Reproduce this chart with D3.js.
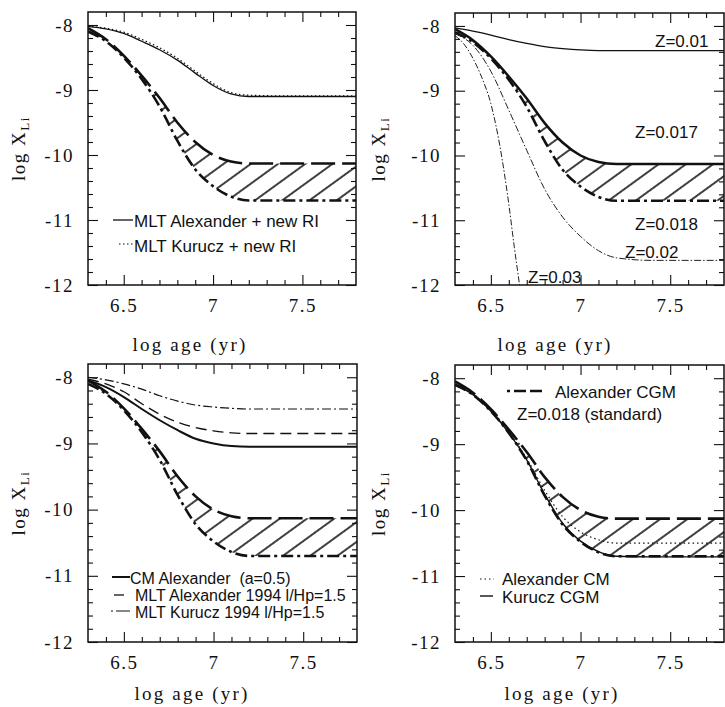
<!DOCTYPE html>
<html><head><meta charset="utf-8">
<script src="https://cdn.jsdelivr.net/npm/d3@7"></script>
<style>body{margin:0;background:#fff} svg{display:block}</style>
</head><body>
<svg id="c" width="725" height="707"></svg>
<script>
// ---------- DATA ----------
const ageGrid   = [6.30, 6.40, 6.50, 6.60, 6.70, 6.80, 6.90, 7.00, 7.10, 7.20, 7.40, 7.60, 7.80];
// common band: upper (Z=0.017 / dashed) and lower (Alexander CGM, Z=0.018 standard)
const bandUpper = [-8.05, -8.22, -8.47, -8.78, -9.12, -9.50, -9.80, -10.00, -10.10, -10.13, -10.13, -10.13, -10.13];
const bandLower = [-8.10, -8.25, -8.50, -8.83, -9.25, -9.78, -10.22, -10.48, -10.64, -10.70, -10.70, -10.70, -10.70];
// panel 1
const p1MltAlexander = [-8.02, -8.06, -8.13, -8.25, -8.38, -8.54, -8.74, -8.93, -9.06, -9.10, -9.10, -9.10, -9.10];
const p1MltKurucz    = [-8.02, -8.05, -8.11, -8.22, -8.35, -8.51, -8.71, -8.90, -9.04, -9.08, -9.09, -9.09, -9.09];
// panel 2
const p2Z001 = [-8.03, -8.08, -8.14, -8.21, -8.27, -8.32, -8.35, -8.37, -8.38, -8.38, -8.38, -8.38, -8.38];
const p2Z002 = [-8.12, -8.30, -8.70, -9.30, -9.92, -10.52, -10.95, -11.25, -11.47, -11.58, -11.62, -11.62, -11.62];
const p2Z003Age = [6.30, 6.35, 6.40, 6.45, 6.50, 6.55, 6.60, 6.63, 6.66, 6.68];
const p2Z003    = [-8.15, -8.28, -8.50, -8.80, -9.20, -9.85, -10.75, -11.40, -12.00, -12.40];
// panel 3
const p3CmAlexander  = [-8.05, -8.15, -8.30, -8.48, -8.65, -8.80, -8.93, -9.00, -9.04, -9.05, -9.05, -9.05, -9.05];
const p3MltAlex1994  = [-8.03, -8.10, -8.22, -8.40, -8.56, -8.68, -8.76, -8.81, -8.84, -8.85, -8.85, -8.85, -8.85];
const p3MltKur1994   = [-8.00, -8.04, -8.10, -8.18, -8.28, -8.36, -8.42, -8.45, -8.47, -8.48, -8.48, -8.48, -8.48];
// panel 4
const p4AlexanderCM  = [-8.10, -8.25, -8.50, -8.82, -9.22, -9.70, -10.10, -10.33, -10.45, -10.50, -10.50, -10.50, -10.50];
const p4KuruczCGM    = [-8.10, -8.25, -8.50, -8.83, -9.24, -9.76, -10.20, -10.47, -10.63, -10.70, -10.71, -10.71, -10.71];
// ticks
const xMajor = [6.5, 7, 7.5];
const xMinor = [6.4, 6.6, 6.7, 6.8, 6.9, 7.1, 7.2, 7.3, 7.4, 7.6, 7.7];
const yMajor = [-8, -9, -10, -11, -12];
const yMinor = [-8.2,-8.4,-8.6,-8.8,-9.2,-9.4,-9.6,-9.8,-10.2,-10.4,-10.6,-10.8,-11.2,-11.4,-11.6,-11.8];
const xDomain = [6.3, 7.8], yDomain = [-12, -7.8];

// ---------- LAYOUT ----------
const svg = d3.select("#c");
const defs = svg.append("defs");
const pat = defs.append("pattern").attr("id","hatch").attr("patternUnits","userSpaceOnUse")
  .attr("width",32).attr("height",16).attr("patternTransform","rotate(-36)");
pat.append("line").attr("x1",-2).attr("x2",34).attr("y1",8).attr("y2",8)
  .attr("stroke","#000").attr("stroke-width",1.4);

const panels = [
  {left:88,  right:356, top:12,  bottom:285, titleX:190, titleY:351, ylabX:25},
  {left:455, right:724, top:13,  bottom:285, titleX:555, titleY:351, ylabX:385},
  {left:88,  right:357, top:364, bottom:642, titleX:192, titleY:700, ylabX:25},
  {left:455, right:724, top:365, bottom:642, titleX:562, titleY:700, ylabX:385}
];
const serifFont = "'Liberation Serif', 'Times New Roman', serif";
const sansFont = "'Liberation Sans', Arial, sans-serif";

function setup(p, i) {
  const x = d3.scaleLinear().domain(xDomain).range([p.left, p.right]);
  const y = d3.scaleLinear().domain(yDomain).range([p.bottom, p.top]);
  const g = svg.append("g");
  defs.append("clipPath").attr("id","clip"+i).append("rect")
    .attr("x",p.left).attr("y",p.top).attr("width",p.right-p.left).attr("height",p.bottom-p.top);
  const plot = g.append("g").attr("clip-path",`url(#clip${i})`);

  const mk = (axis, scale, vals, size, tx, labels) => {
    const a = g.append("g").attr("transform",tx)
      .call(axis(scale).tickValues(vals).tickSize(-size).tickPadding(14)
        .tickFormat(labels ? d3.format("") : ""));
    a.select(".domain").remove();
    a.selectAll("line").attr("stroke","#111").attr("stroke-width",1.1);
    a.selectAll("text").attr("font-family",serifFont).attr("font-size",19)
      .attr("letter-spacing",1.5).attr("fill","#111");
    return a;
  };
  mk(d3.axisBottom, x, xMajor, 10, `translate(0,${p.bottom})`, true);
  mk(d3.axisBottom, x, xMinor, 5, `translate(0,${p.bottom})`, false);
  mk(d3.axisTop, x, xMajor, 10, `translate(0,${p.top})`, false);
  mk(d3.axisTop, x, xMinor, 5, `translate(0,${p.top})`, false);
  const la = mk(d3.axisLeft, y, yMajor, 10, `translate(${p.left},0)`, true);
  la.selectAll("text").text(d => "-" + Math.abs(d));
  mk(d3.axisLeft, y, yMinor, 5, `translate(${p.left},0)`, false);
  mk(d3.axisRight, y, yMajor, 10, `translate(${p.right},0)`, false);
  mk(d3.axisRight, y, yMinor, 5, `translate(${p.right},0)`, false);

  g.append("rect").attr("x",p.left).attr("y",p.top).attr("width",p.right-p.left).attr("height",p.bottom-p.top)
    .attr("fill","none").attr("stroke","#111").attr("stroke-width",1.5);

  g.append("text").attr("x",p.titleX).attr("y",p.titleY).attr("text-anchor","middle")
    .attr("font-family",serifFont).attr("font-size",19).attr("letter-spacing",2.2)
    .attr("fill","#111").text("log age (yr)");
  const yt = g.append("text").attr("transform",`translate(${p.ylabX},${(p.top+p.bottom)/2}) rotate(-90)`)
    .attr("text-anchor","middle").attr("font-family",serifFont).attr("font-size",19)
    .attr("letter-spacing",1.5).attr("fill","#111");
  yt.append("tspan").text("log X");
  yt.append("tspan").attr("font-size",13).attr("dy",4).text("Li");
  return {x, y, g, plot};
}

function curve(ctx, xs, ys, style) {
  const line = d3.line().x((d,i)=>ctx.x(xs[i])).y(d=>ctx.y(d)).curve(d3.curveMonotoneX);
  const path = ctx.plot.append("path").datum(ys).attr("d",line).attr("fill","none")
    .attr("stroke", style.color || "#111").attr("stroke-width",style.w)
    .attr("stroke-linecap","butt");
  if (style.dash) path.attr("stroke-dasharray",style.dash);
  return path;
}
function band(ctx, upperStyle) {
  const area = d3.area().x((d,i)=>ctx.x(ageGrid[i])).y0((d,i)=>ctx.y(bandLower[i])).y1(d=>ctx.y(d))
    .curve(d3.curveMonotoneX);
  ctx.plot.append("path").datum(bandUpper).attr("d",area).attr("fill","url(#hatch)").attr("stroke","none");
  curve(ctx, ageGrid, bandUpper, upperStyle || {w:2.6, dash:"24,7"});
  curve(ctx, ageGrid, bandLower, {w:2.6, dash:"12,4,3,4"});
}
function legendLine(ctx, x1, x2, yy, style) {
  const l = ctx.g.append("line").attr("x1",x1).attr("x2",x2).attr("y1",yy).attr("y2",yy)
    .attr("stroke","#111").attr("stroke-width",style.w);
  if (style.dash) l.attr("stroke-dasharray",style.dash);
}
function label(ctx, tx, ty, s, size) {
  ctx.g.append("text").attr("x",tx).attr("y",ty).attr("font-family",sansFont)
    .attr("font-size",size||17).attr("fill","#111").text(s);
}

// ---------- PANEL 1 ----------
const c1 = setup(panels[0], 0);
band(c1);
const s1a = {w:1.3}, s1k = {w:1.2, dash:"1.5,2.5"};
curve(c1, ageGrid, p1MltAlexander, s1a);
curve(c1, ageGrid, p1MltKurucz, s1k);
legendLine(c1, 113, 133, 220, s1a);
label(c1, 134, 227, "MLT Alexander + new RI");
legendLine(c1, 119, 133, 244, s1k);
label(c1, 134, 252, "MLT Kurucz + new RI");

// ---------- PANEL 2 ----------
const c2 = setup(panels[1], 1);
band(c2, {w:2.5});
curve(c2, ageGrid, p2Z001, {w:1.3});
curve(c2, ageGrid, p2Z002, {w:1.0, dash:"7,2,1.5,2", color:"#222"});
curve(c2, p2Z003Age, p2Z003, {w:1.0, dash:"6,2,1.5,2", color:"#222"});
label(c2, 655, 47, "Z=0.01");
label(c2, 635, 138, "Z=0.017");
label(c2, 635, 230, "Z=0.018");
label(c2, 625, 258, "Z=0.02");
label(c2, 528, 283, "Z=0.03");

// ---------- PANEL 3 ----------
const c3 = setup(panels[2], 2);
band(c3);
const s3cm = {w:2.0}, s3ma = {w:1.3, dash:"11,6"}, s3mk = {w:1.2, dash:"9,3,2,3"};
curve(c3, ageGrid, p3MltKur1994, s3mk);
curve(c3, ageGrid, p3MltAlex1994, s3ma);
curve(c3, ageGrid, p3CmAlexander, s3cm);
legendLine(c3, 112, 130, 577, s3cm);
label(c3, 130, 584, "CM Alexander\u00a0 (a=0.5)", 16);
legendLine(c3, 114, 124, 595, {w:1.3});
label(c3, 135, 601, "MLT Alexander 1994 l/Hp=1.5", 16);
legendLine(c3, 111, 130, 611, {w:1.2, dash:"2,3,14"});
label(c3, 135, 618, "MLT Kurucz 1994 l/Hp=1.5", 16);

// ---------- PANEL 4 ----------
const c4 = setup(panels[3], 3);
band(c4);
const s4cm = {w:1.2, dash:"1.5,3"}, s4k = {w:1.4};
curve(c4, ageGrid, p4AlexanderCM, s4cm);
curve(c4, ageGrid, p4KuruczCGM, s4k);
legendLine(c4, 507, 543, 391, {w:2.4, dash:"3,4,12,4,12"});
label(c4, 555, 398, "Alexander CGM");
label(c4, 517, 420, "Z=0.018 (standard)");
legendLine(c4, 480, 494, 579, s4cm);
label(c4, 502, 585, "Alexander CM");
legendLine(c4, 480, 493, 596, s4k);
label(c4, 502, 603, "Kurucz CGM");
</script>
</body></html>
